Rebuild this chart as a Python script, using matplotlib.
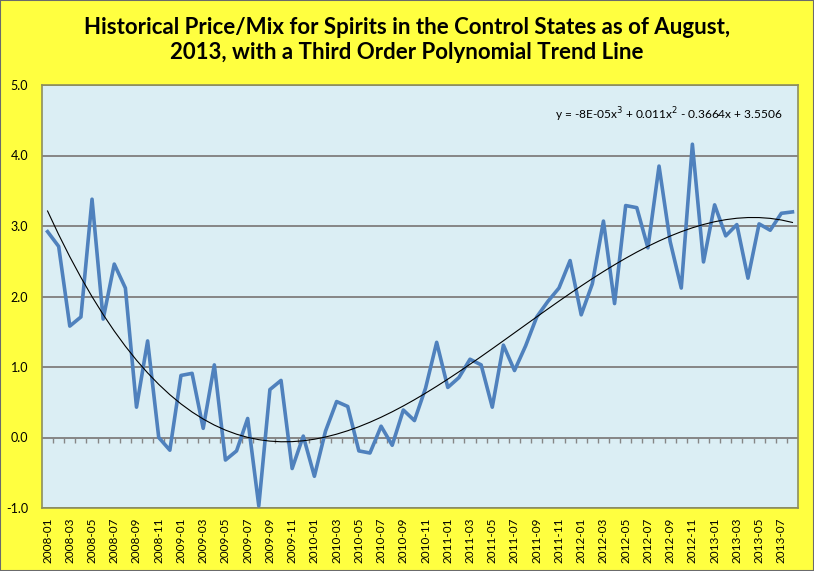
import matplotlib.pyplot as plt
import numpy as np
from matplotlib.patches import Rectangle

# monthly price/mix index, 2008-01 .. 2013-08
months = [f"{y}-{m:02d}" for y in range(2008, 2014) for m in range(1, 13)][:68]
values = [2.92, 2.71, 1.58, 1.71, 3.38, 1.68, 2.46, 2.12, 0.43, 1.37, 0.00, -0.18,
          0.88, 0.91, 0.13, 1.03, -0.32, -0.19, 0.27, -0.97, 0.68, 0.81, -0.44, 0.02,
          -0.55, 0.09, 0.51, 0.44, -0.19, -0.22, 0.16, -0.11, 0.39, 0.24, 0.70, 1.35,
          0.71, 0.85, 1.11, 1.03, 0.43, 1.31, 0.95, 1.30, 1.71, 1.93, 2.12, 2.51,
          1.74, 2.18, 3.07, 1.90, 3.29, 3.26, 2.69, 3.85, 2.78, 2.12, 4.16, 2.49,
          3.30, 2.86, 3.02, 2.26, 3.03, 2.94, 3.18, 3.20]
title = ("Historical Price/Mix for Spirits in the Control States as of August,\n"
         "2013, with a Third Order Polynomial Trend Line")
equation = r"y = -8E-05x$^3$ + 0.011x$^2$ - 0.3664x + 3.5506"

plt.rcParams['font.family'] = ['Lato', 'DejaVu Sans']

fig = plt.figure(figsize=(8.14, 5.71), dpi=100, facecolor='#FFFF40')
fig.patches.append(Rectangle((0, 0), 1, 1, transform=fig.transFigure,
                             fill=False, edgecolor='#6b6b6b', linewidth=1.5))
ax = fig.add_axes([42 / 814, 1 - 508 / 571, 756 / 814, 423 / 571])
ax.set_facecolor('#DBEEF4')

x = np.arange(len(values))
ax.plot(x, values, color='#4F81BD', linewidth=2.6, zorder=3)

# third order trend line, fitted over x = 1..n as Excel does
xs = x + 1
coef = np.polyfit(xs, values, 3)
ax.plot(x, np.polyval(coef, xs), color='black', linewidth=0.8, zorder=4)

ax.set_xlim(-0.5, len(values) - 0.5)
ax.set_ylim(-1.0, 5.0)
ax.set_yticks(np.arange(-1, 5.01, 1.0))
ax.set_yticklabels([f"{v:.1f}" for v in np.arange(-1, 5.01, 1.0)])
ax.yaxis.grid(True, color='#868686', linewidth=1.4)
ax.set_axisbelow(True)

ax.set_xticks(x[::2])
ax.set_xticklabels(months[::2], rotation=90)
ax.tick_params(axis='x', length=0, pad=7, labelsize=8.5)
ax.tick_params(axis='y', length=0, pad=10, labelsize=9)

# category tick marks on the zero axis
ax.vlines(np.arange(0.5, len(values) - 1, 1.0), -0.075, 0,
          color='#868686', linewidth=1, zorder=2)

for s in ax.spines.values():
    s.set_color('#8F8F5C')
    s.set_linewidth(1.2)

ax.text(0.98, 0.93, equation, transform=ax.transAxes, ha='right', va='center',
        fontsize=8.6)

fig.text(0.5, 0.93, title, ha='center', va='center', fontsize=16,
         fontweight='bold', linespacing=1.2)

fig.savefig('out.png', dpi=100, facecolor=fig.get_facecolor())
